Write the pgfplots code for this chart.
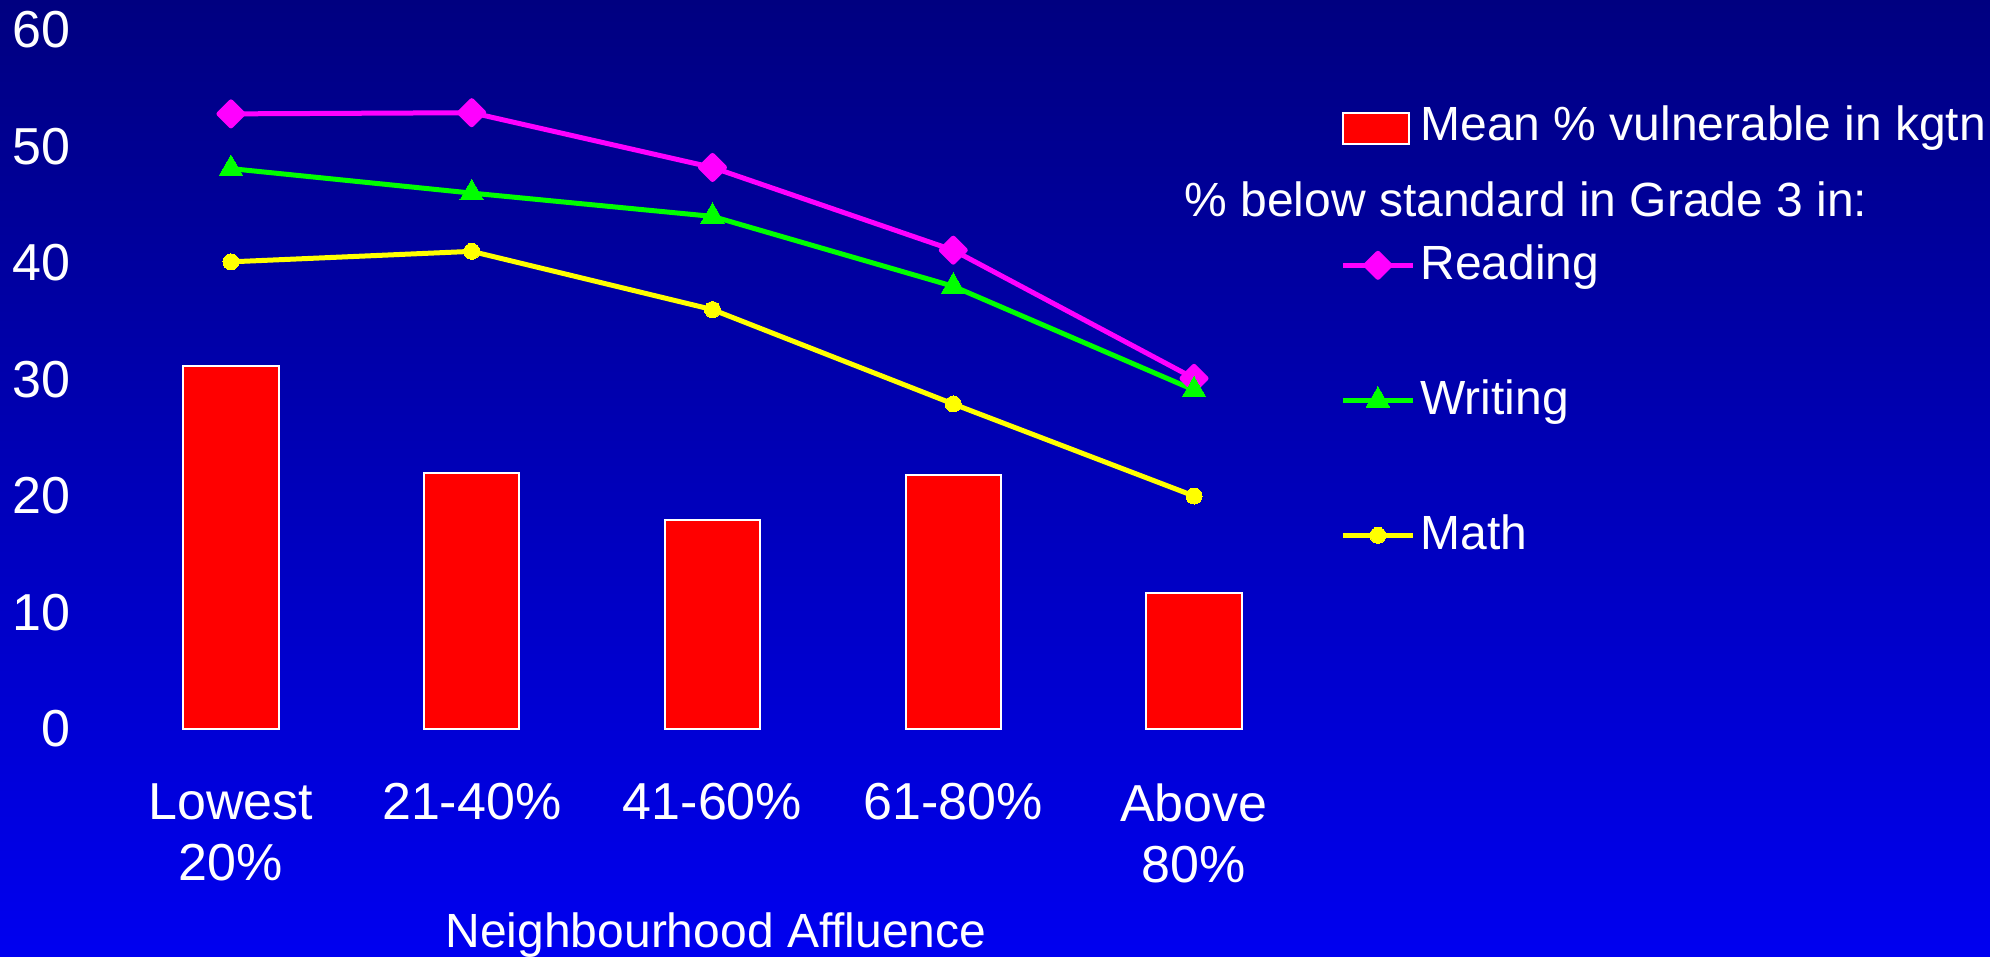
\documentclass[border=0pt]{standalone}
\usepackage{pgfplots}
\pgfplotsset{compat=1.18}
\usepackage{fontspec}
\setmainfont{Liberation Sans}
\definecolor{bgtop}{RGB}{0,0,128}
\definecolor{bgbot}{RGB}{0,0,240}
\definecolor{pmag}{RGB}{255,0,255}
\definecolor{pgreen}{RGB}{0,255,0}
\definecolor{pyellow}{RGB}{255,255,0}
\definecolor{pred}{RGB}{255,0,0}
\begin{document}
\begin{tikzpicture}
\useasboundingbox (0,0) rectangle (995pt,478.5pt);
\shade[top color=bgtop,bottom color=bgbot] (0,0) rectangle (995pt,478.5pt);
\begin{axis}[
  at={(55.3pt,114pt)}, anchor=south west,
  scale only axis, width=601.9pt, height=349.5pt,
  xmin=-0.5, xmax=4.5, ymin=0, ymax=60,
  axis line style={draw=none},
  tick style={draw=none},
  xtick={0,...,4},
  xticklabels={{Lowest\\20\%},{21-40\%},{41-60\%},{61-80\%},{Above\\80\%}},
  ytick={0,10,...,60},
  /pgf/number format/assume math mode=true,
  yticklabel style={anchor=east, inner sep=0pt, xshift=-20pt, font=\fontsize{26}{30.5}\selectfont, text=white},
  xticklabel style={anchor=north, inner sep=0pt, yshift=-27pt, align=center, font=\fontsize{26}{30.5}\selectfont, text=white},
  xlabel={Neighbourhood Affluence},
  xlabel style={at={(axis description cs:0.5,0)}, anchor=base, yshift=-109pt, xshift=1.75pt, inner sep=0pt, font=\fontsize{24}{28}\selectfont, text=white},
  clip=false,
  legend style={at={(1.0213,0.894)}, anchor=north west, draw=none, fill=none, text=white, font=\fontsize{24}{28}\selectfont, inner sep=0pt, row sep=45.5pt, column sep=2.5pt, nodes={inner sep=0pt, text height=18pt, text depth=4pt}, cells={anchor=west}},
  legend image code/.code={\draw[mark repeat=2,mark phase=2,#1] plot coordinates {(0pt,0pt)(17.5pt,0pt)(35pt,0pt)};},
]
\addplot[ybar, bar width=0.395, fill=pred, draw=white, line width=1pt,
  legend image code/.code={\draw[fill=pred,draw=white,line width=1pt] (0pt,-7.75pt) rectangle (33pt,7.75pt);}]
  coordinates {(0,31.2)(1,22.0)(2,17.9)(3,21.8)(4,11.7)};
\addlegendentry[text depth=5.9pt]{Mean \% vulnerable in kgtn}
\addplot[color=pmag, line width=2.5pt, line join=round, mark=square*, mark size=4.24pt, mark options={rotate=45, solid, fill=pmag}]
  coordinates {(0,52.8)(1,52.9)(2,48.2)(3,41.1)(4,30.1)};
\addlegendentry{Reading}
\addplot[color=pgreen, line width=2.5pt, line join=round, mark=triangle*, mark size=6.8pt, mark options={solid, fill=pgreen, line width=0pt}]
  coordinates {(0,48.1)(1,46.0)(2,44.0)(3,38.0)(4,29.1)};
\addlegendentry{Writing}
\addplot[color=pyellow, line width=2.5pt, line join=round, mark=*, mark size=4pt, mark options={solid, fill=pyellow, line width=0pt}]
  coordinates {(0,40.1)(1,41.0)(2,36.0)(3,27.9)(4,20.0)};
\addlegendentry{Math}
\end{axis}
\node[anchor=base west, inner sep=0pt, text=white, font=\fontsize{24}{28}\selectfont] at (592pt,370.15pt) {\% below standard in Grade 3 in:};
\end{tikzpicture}
\end{document}
